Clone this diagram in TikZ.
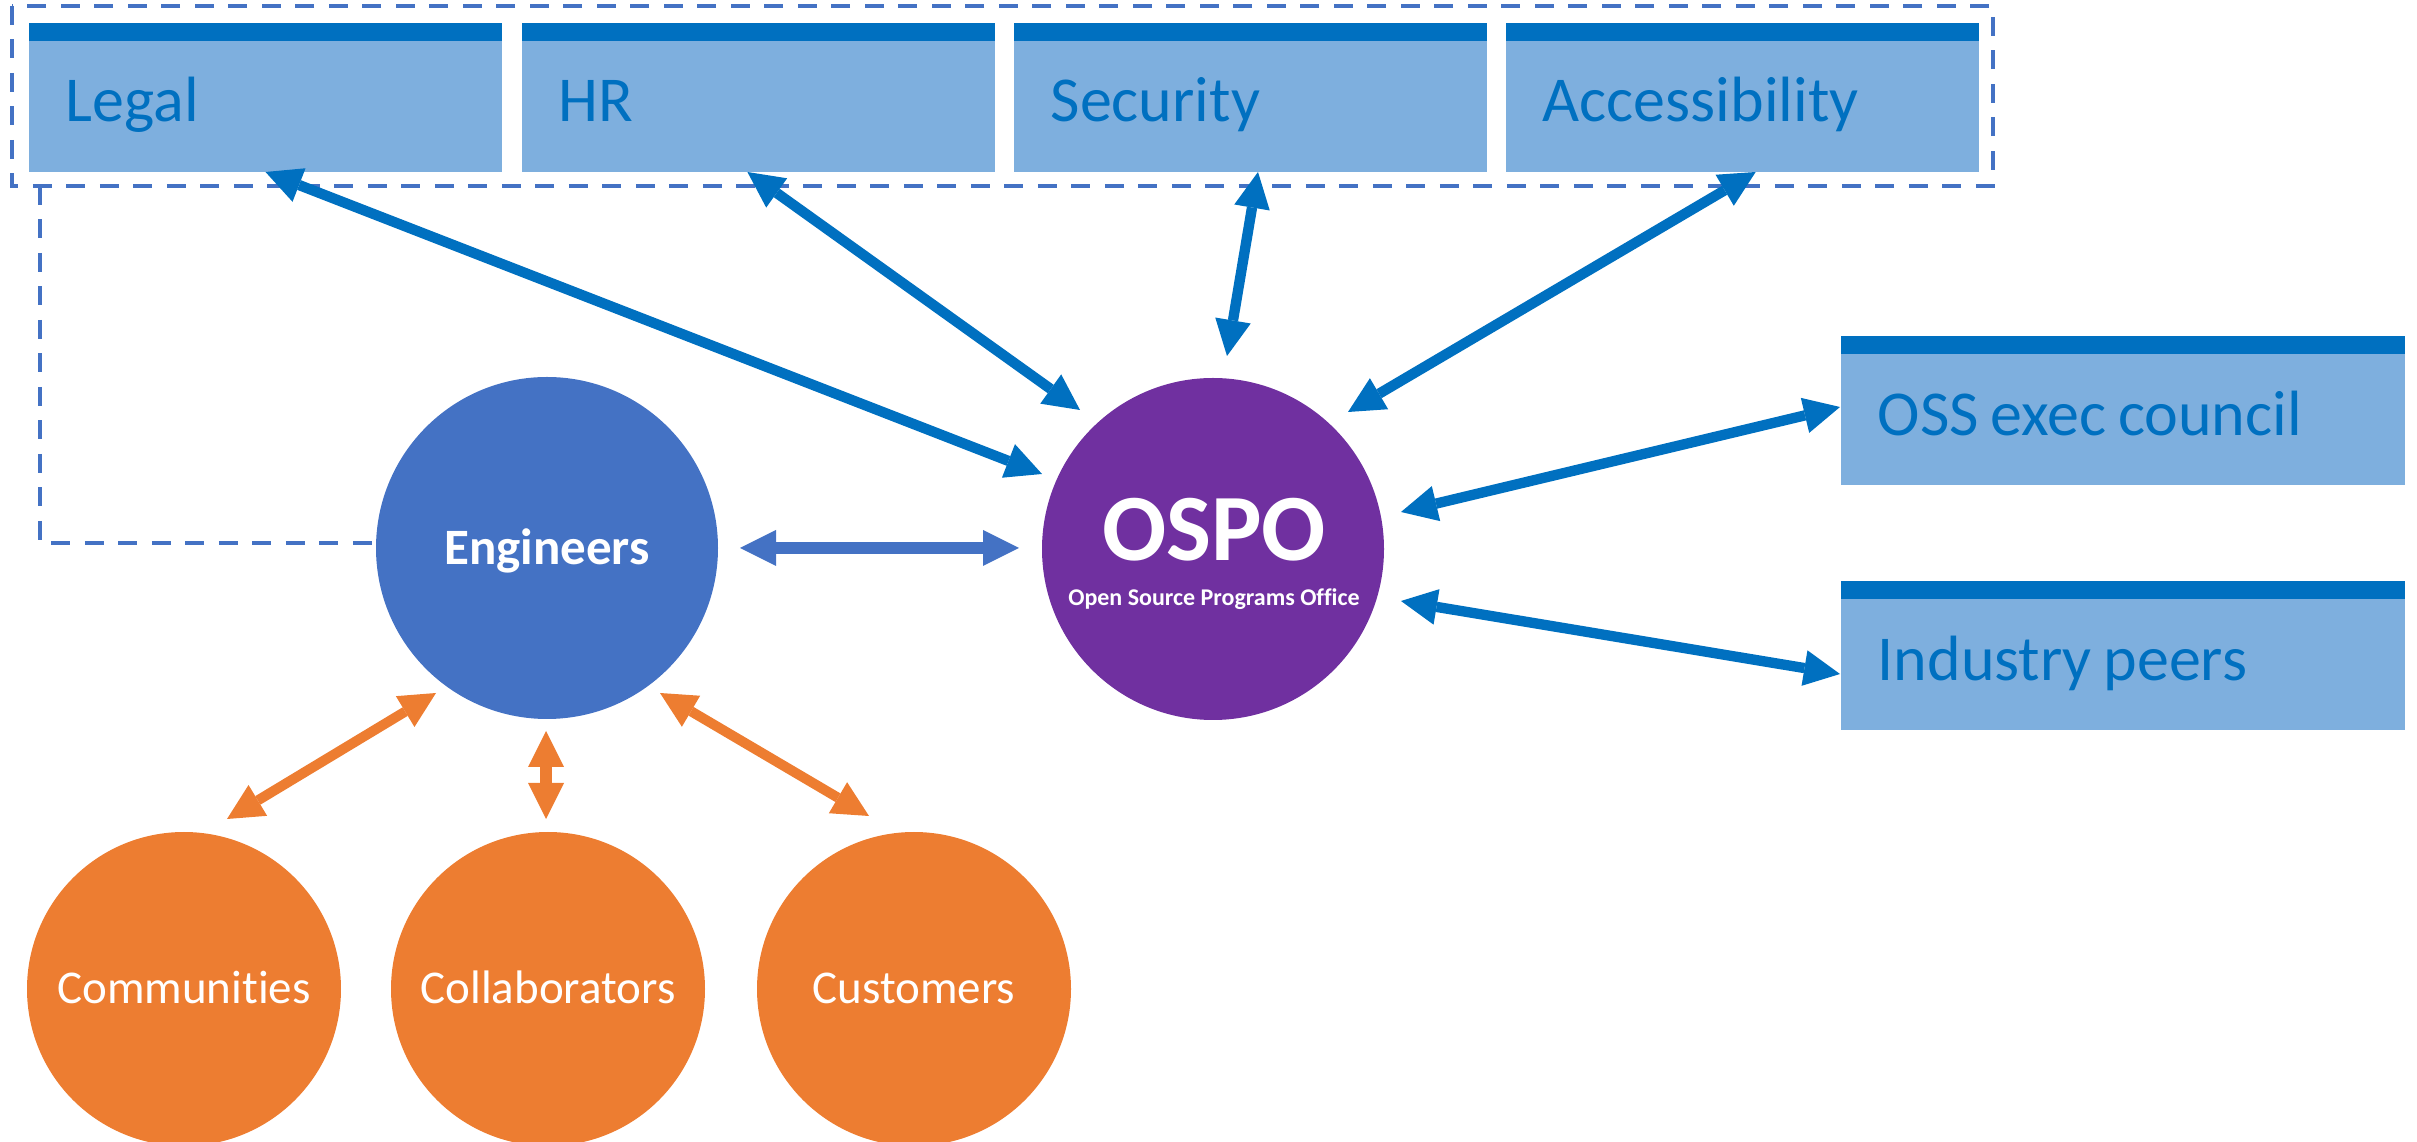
\documentclass[tikz,border=0pt]{standalone}
\usepackage{fontspec}
\setmainfont{Carlito}[RawFeature=-liga]
\usetikzlibrary{arrows.meta}
\definecolor{dkblue}{HTML}{0070C0}
\definecolor{boxfill}{HTML}{7EAFDE}
\definecolor{engblue}{HTML}{4472C4}
\definecolor{ospopurple}{HTML}{7030A0}
\definecolor{orng}{HTML}{ED7D31}
\newcommand\tightwords{\spaceskip=3.5pt plus 1pt minus 0.5pt\relax}

\begin{document}
\begin{tikzpicture}[x=0.3pt,y=-0.3pt,
  % team boxes with a dark header band
  unitbox/.style={fill=boxfill, text=dkblue,
    font=\fontsize{19.2pt}{23pt}\selectfont, execute at begin node=\tightwords,
    inner xsep=11pt, inner ysep=0pt, outer sep=0pt, minimum height=39.3pt,
    text height=12.1pt, text depth=2.8pt, align=left},
  topbox/.style={unitbox, text width=119.9pt},
  sidebox/.style={unitbox, text width=147.2pt},
  band/.style={fill=dkblue},
  % round actors
  actor/.style={circle, inner sep=0pt, outer sep=0pt, text=white},
  bigactor/.style={actor, minimum size=102.6pt},
  smallactor/.style={actor, minimum size=94.2pt, fill=orng,
    font=\fontsize{14.1pt}{17pt}\selectfont, text height=8.9pt, text depth=0pt},
  % connectors
  bluelink/.style={draw=dkblue, line width=3.1pt, {Triangle[length=10.8pt,width=10.8pt,line width=0pt]}-{Triangle[length=10.8pt,width=10.8pt,line width=0pt]}},
  englink/.style={draw=engblue, line width=3.6pt, {Triangle[length=10.8pt,width=10.8pt,line width=0pt]}-{Triangle[length=10.8pt,width=10.8pt,line width=0pt]}},
  orlink/.style={draw=orng, line width=3pt, {Triangle[length=10.8pt,width=10.8pt,line width=0pt]}-{Triangle[length=10.8pt,width=10.8pt,line width=0pt]}},
  orblock/.style={draw=orng, line width=3.6pt, {Triangle[length=10.8pt,width=10.8pt,line width=0pt]}-{Triangle[length=10.8pt,width=10.8pt,line width=0pt]}},
  grpdash/.style={draw=engblue, line width=1.4pt, dash pattern=on 5.7pt off 4.35pt},
]
\useasboundingbox (0,0) rectangle (2417,1142);

% corporate functions
\node[topbox] (legal) at (265.5,106.5) {Legal};
\node[topbox] (hr)    at (758,106.5)   {HR};
\node[topbox] (sec)   at (1250.5,106.5) {Security};
\node[topbox] (acc)   at (1742.5,106.5) {Accessibility};

% external partners
\node[sidebox] (oss) at (2123,420) {OSS exec council};
\node[sidebox] (ind) at (2123,665) {Industry peers};

\foreach \n in {legal,hr,sec,acc,oss,ind}
  \fill[band] (\n.north west) rectangle ([yshift=5.4pt]\n.north east);

% dashed grouping of the functions together with the engineers
\coordinate (grpNW) at (12,6);
\coordinate (grpSE) at (1993,186);
\coordinate (grpTail) at (40,186);
\draw[grpdash] (grpNW) rectangle (grpSE);

% actors
\node[bigactor, fill=engblue, font=\bfseries\fontsize{15.3pt}{18pt}\selectfont,
      text height=9.67pt, text depth=0pt] (eng) at (547,548) {Engineers};
\node[bigactor, fill=ospopurple] (ospo) at (1213,549) {};
\node[text=white, inner sep=0pt, font=\bfseries\fontsize{28.5pt}{32pt}\selectfont,
      text height=18pt, text depth=0pt] (ospotitle) at ([shift={(1,-18)}]ospo.center) {OSPO};
\node[text=white, inner sep=0pt, font=\bfseries\fontsize{7.2pt}{9pt}\selectfont,
      text height=4.55pt, text depth=0pt] (ospofull) at ([shift={(1,49)}]ospo.center) {Open Source Programs Office};

\node[smallactor] (comm) at (184,989) {Communities};
\node[smallactor] (coll) at (548,989) {Collaborators};
\node[smallactor] (cust) at (914,989) {Customers};

\draw[grpdash] (grpTail) |- ([shift={(0,-5)}]eng.west);

% OSPO relations
\draw[bluelink] (legal.south) -- ([shift={(-171,-75)}]ospo.center);
\draw[bluelink] ([shift={(-10.6,0)}]hr.south) -- ([shift={(-133,-139)}]ospo.center);
\draw[bluelink] ([shift={(7.5,0)}]sec.south) -- ([shift={(14,-193)}]ospo.center);
\draw[bluelink] ([shift={(13.2,0)}]acc.south) -- ([shift={(135,-137)}]ospo.center);
\draw[bluelink] ([shift={(188,-37)}]ospo.center) -- ([shift={(-1,-13)}]oss.west);
\draw[bluelink] ([shift={(188,52)}]ospo.center) -- ([shift={(-1,9)}]ind.west);
\draw[englink] ([shift={(193,0)}]eng.center) -- ([shift={(-194,-1)}]ospo.center);

% engineers and the outside world
\draw[orlink] ([shift={(-111,145)}]eng.center) -- ([shift={(43,-170)}]comm.center);
\draw[orblock] ([shift={(-1,183)}]eng.center) -- ([shift={(-2,-170)}]coll.center);
\draw[orlink] ([shift={(113,145)}]eng.center) -- ([shift={(-45,-173)}]cust.center);
\end{tikzpicture}
\end{document}
